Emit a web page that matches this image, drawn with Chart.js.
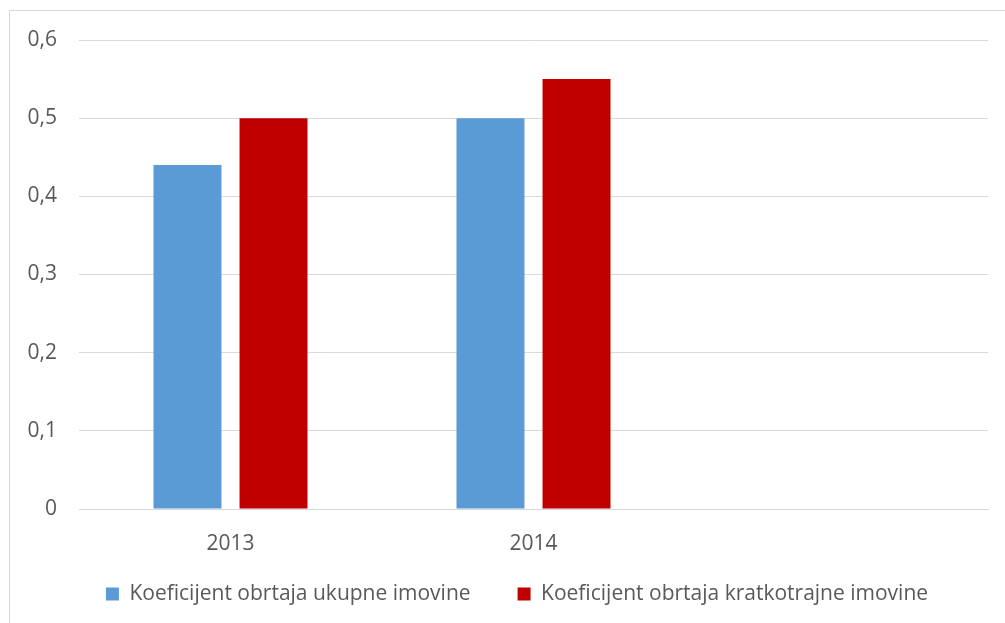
<!DOCTYPE html>
<html>
<head>
  <title>Koeficijent obrtaja</title>
  <script src="https://cdn.jsdelivr.net/npm/chart.js"></script>
  <style>
    html, body { margin: 0; padding: 0; background: #fff; }
    #wrap { width: 1005px; height: 623px; position: relative; }
  </style>
</head>
<body>
  <div id="wrap"><canvas id="myChart" width="1005" height="623"></canvas></div>
  <script>
    // data
    const years = ['2013', '2014', ''];
    const ukupneImovine = [0.44, 0.5, null];
    const kratkotrajneImovine = [0.5, 0.55, null];
    const seriesNames = ['Koeficijent obrtaja ukupne imovine', 'Koeficijent obrtaja kratkotrajne imovine'];

    const textColor = '#595959';
    const gridColor = '#d9d9d9';
    const fontFamily = '"Open Sans", sans-serif';
    const legendGap = 47;

    // thin frame around the chart, like the Excel chart border
    const framePlugin = {
      id: 'frame',
      beforeDraw(chart) {
        const c = chart.ctx;
        c.save();
        c.strokeStyle = gridColor;
        c.lineWidth = 1;
        c.strokeRect(9.5, 10.5, 1100, 700);
        c.restore();
      }
    };

    // legend sits a bit right of centre in the original, with wide gap between items
    const legendShift = {
      id: 'legendShift',
      afterLayout(chart) {
        const lg = chart.legend;
        lg.left = 46;
        lg.top = 594 - legendGap - 10.5;
      }
    };

    var ctx = document.getElementById('myChart').getContext('2d');
    var myChart = new Chart(ctx, {
      type: 'bar',
      data: {
        labels: years,
        datasets: [{
          label: seriesNames[0],
          data: ukupneImovine,
          backgroundColor: '#5b9bd5',
          categoryPercentage: 0.568,
          barPercentage: 0.79
        }, {
          label: seriesNames[1],
          data: kratkotrajneImovine,
          backgroundColor: '#c00000',
          categoryPercentage: 0.568,
          barPercentage: 0.79
        }]
      },
      options: {
        responsive: false,
        animation: false,
        layout: {
          padding: { top: 40, right: 17, left: 0, bottom: 17 }
        },
        scales: {
          x: {
            grid: { display: false, drawTicks: false },
            border: { display: true, color: gridColor, width: 1 },
            ticks: {
              color: textColor,
              padding: 22,
              font: { family: fontFamily, size: 21 }
            },
            afterFit: function(scale) { scale.height = 57; }
          },
          y: {
            min: 0,
            max: 0.6,
            grid: { color: gridColor, drawTicks: false },
            border: { display: false },
            ticks: {
              stepSize: 0.1,
              color: textColor,
              padding: 22,
              font: { family: fontFamily, size: 21 },
              callback: function(value) {
                if (value === 0) return '0';
                return value.toFixed(1).replace('.', ',');
              }
            },
            afterFit: function(scale) { scale.width = 79; }
          }
        },
        plugins: {
          legend: {
            position: 'bottom',
            maxHeight: 40,
            labels: {
              color: textColor,
              boxWidth: 13,
              boxHeight: 13,
              padding: legendGap,
              font: { family: fontFamily, size: 21 }
            }
          },
          tooltip: { enabled: false }
        }
      },
      plugins: [framePlugin, legendShift]
    });
  </script>
</body>
</html>
